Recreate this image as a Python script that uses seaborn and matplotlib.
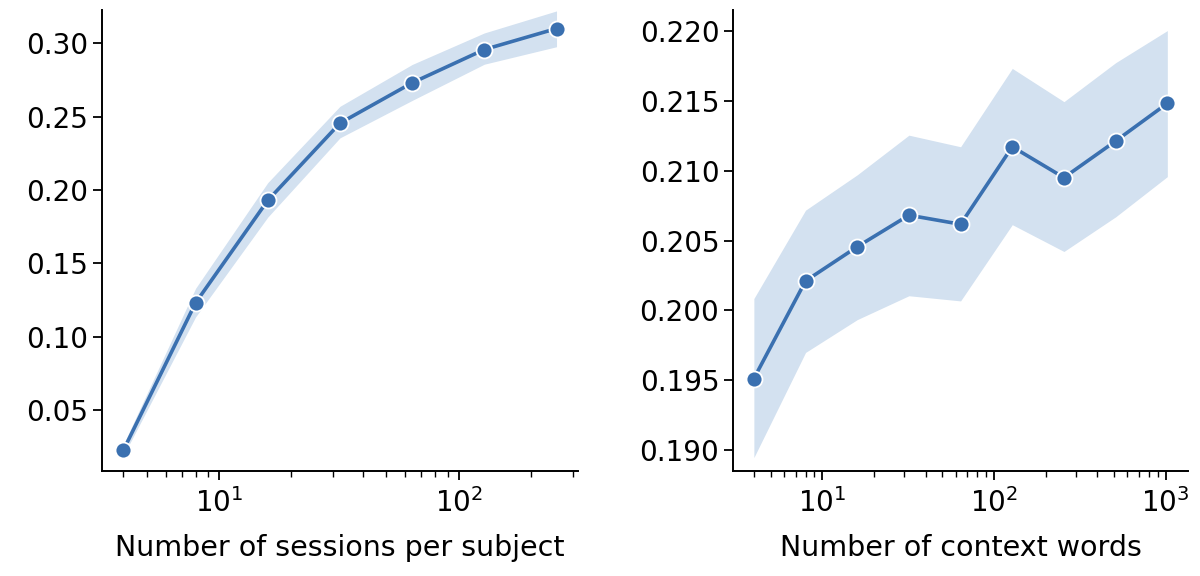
import numpy as np
import pandas as pd
import matplotlib
matplotlib.use("Agg")
import matplotlib.pyplot as plt
import seaborn as sns

# Left panel data
sessions = [4, 8, 16, 32, 64, 128, 256]
sessions_mean = [0.0227, 0.1231, 0.1929, 0.2455, 0.2730, 0.2957, 0.3100]
sessions_lo = [0.0190, 0.1135, 0.1815, 0.2355, 0.2610, 0.2857, 0.2976]
sessions_hi = [0.0265, 0.1330, 0.2050, 0.2570, 0.2855, 0.3070, 0.3220]

# Right panel data
context = [4, 8, 16, 32, 64, 128, 256, 512, 1024]
context_mean = [0.19512, 0.20211, 0.20456, 0.20682, 0.20617, 0.21172, 0.20951, 0.21213, 0.21483]
context_lo = [0.18946, 0.19699, 0.19934, 0.20105, 0.20068, 0.20614, 0.20422, 0.20670, 0.20958]
context_hi = [0.20085, 0.20718, 0.20971, 0.21255, 0.21172, 0.21733, 0.21495, 0.21774, 0.22004]

xlabels = ["Number of sessions per subject", "Number of context words"]

sns.set_theme(style="ticks")
plt.rcParams['font.family'] = ['DejaVu Sans']
plt.rcParams['text.color'] = 'black'
plt.rcParams['axes.labelcolor'] = 'black'
plt.rcParams['xtick.color'] = 'black'
plt.rcParams['ytick.color'] = 'black'

color = "#3A70B0"
band = "#d3e1f0"

fig = plt.figure(figsize=(12, 5.76), dpi=100)
ax1 = fig.add_axes([0.0848, 0.1823, 0.397, 0.800])
ax2 = fig.add_axes([0.611, 0.1823, 0.379, 0.800])

for ax, x, m, lo, hi, lab in [
    (ax1, sessions, sessions_mean, sessions_lo, sessions_hi, xlabels[0]),
    (ax2, context, context_mean, context_lo, context_hi, xlabels[1]),
]:
    df = pd.DataFrame({"x": x, "y": m})
    ax.fill_between(x, lo, hi, color=band, linewidth=0, zorder=1)
    sns.lineplot(data=df, x="x", y="y", ax=ax, color=color, linewidth=2.6,
                 marker="o", markersize=11.5, markeredgecolor="white",
                 markeredgewidth=1.3, zorder=3)
    ax.set_xscale("log")
    ax.set_xlabel(lab, fontsize=20.5, color="black", labelpad=11)
    ax.set_ylabel("")
    ax.tick_params(axis="both", which="major", labelsize=20, length=6.5, width=1.3,
                   color="black", labelcolor="black")
    ax.tick_params(axis="x", which="major", pad=6)
    ax.tick_params(axis="x", which="minor", length=4, width=1.0, color="black")
    for s in ["left", "bottom"]:
        ax.spines[s].set_color("black")
        ax.spines[s].set_linewidth(1.4)
    sns.despine(ax=ax)

ax1.set_yticks([0.05, 0.10, 0.15, 0.20, 0.25, 0.30])
ax1.set_yticklabels(["0.05", "0.10", "0.15", "0.20", "0.25", "0.30"])
ax1.set_ylim(0.0085, 0.3225)
ax2.set_yticks([0.190, 0.195, 0.200, 0.205, 0.210, 0.215, 0.220])
ax2.set_yticklabels(["0.190", "0.195", "0.200", "0.205", "0.210", "0.215", "0.220"])
ax2.set_ylim(0.1885, 0.2215)

fig.savefig("out.png", dpi=100)
